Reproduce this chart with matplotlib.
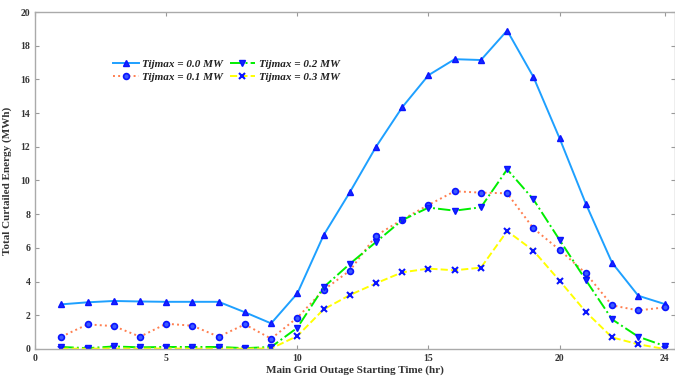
import matplotlib
matplotlib.use("Agg")
import matplotlib.pyplot as plt

hours = list(range(1, 25))
t00 = [2.65, 2.77, 2.85, 2.82, 2.8, 2.8, 2.8, 2.18, 1.52, 3.3, 6.75, 9.3, 12.0, 14.35, 16.25, 17.2, 17.15, 18.9, 16.15, 12.5, 8.62, 5.12, 3.16, 2.67]
t01 = [0.73, 1.46, 1.36, 0.73, 1.5, 1.38, 0.73, 1.46, 0.61, 1.86, 3.5, 4.65, 6.73, 7.68, 8.55, 9.36, 9.28, 9.24, 7.16, 5.88, 4.49, 2.59, 2.29, 2.47]
t02 = [0.12, 0.05, 0.15, 0.1, 0.12, 0.12, 0.12, 0.05, 0.12, 1.26, 3.66, 5.05, 6.35, 7.65, 8.39, 8.21, 8.41, 10.66, 8.88, 6.47, 4.09, 1.76, 0.73, 0.18]
t03 = [0.02, 0.02, 0.03, 0.02, 0.03, 0.02, 0.02, 0.02, 0.03, 0.77, 2.35, 3.2, 3.9, 4.55, 4.77, 4.67, 4.83, 7.0, 5.84, 4.05, 2.2, 0.69, 0.28, 0.0]
labels = ["Tijmax = 0.0 MW", "Tijmax = 0.1 MW", "Tijmax = 0.2 MW", "Tijmax = 0.3 MW"]
xticks = [0, 5, 10, 15, 20, 24]
yticks = list(range(0, 21, 2))

plt.rcParams['font.family'] = ['Liberation Serif', 'DejaVu Serif']
fig = plt.figure(figsize=(6.75, 3.81), dpi=100)
ax = fig.add_axes([0.052, 0.084, 0.948, 0.8845])

mk = dict(markersize=4, markeredgecolor='#0a14ff', markerfacecolor='#1428ff')
ax.plot(hours, t00, '-', color='#1ea0ff', lw=1.4, marker='^', label=labels[0], **mk)
ax.plot(hours, t01, ':', color='#ff7f50', lw=1.4, marker='o', label=labels[1],
        markersize=4.2, markeredgecolor='#0a14ff', markerfacecolor='#3c5aff', markeredgewidth=1.2)
ax.plot(hours, t02, '-.', color='#00ee00', lw=1.4, marker='v', label=labels[2], **mk)
ax.plot(hours, t03, '--', color='#ffff00', lw=1.4, marker='x', label=labels[3],
        markersize=4, markeredgecolor='#0a14ff', markeredgewidth=1.5)

ax.set_xlim(0, 24.4)
ax.set_ylim(0, 20)
ax.set_xticks(xticks)
ax.set_yticks(yticks)
ax.tick_params(direction='in', length=3, color='#999999', labelsize=7, top=True, right=True,
               labeltop=False, labelright=False)
for lab in ax.get_xticklabels() + ax.get_yticklabels():
    lab.set_fontweight('bold')
    lab.set_color('#333333')
for s in ax.spines.values():
    s.set_color('#aaaaaa')
    s.set_linewidth(1.0)

ax.set_xlabel("Main Grid Outage Starting Time (hr)", fontsize=8, fontweight='bold', color='#333333', labelpad=2)
ax.set_ylabel("Total Curtailed Energy (MWh)", fontsize=8, fontweight='bold', color='#333333', labelpad=6)

handles, labs = ax.get_legend_handles_labels()
leg = ax.legend(handles, labs, ncol=2, frameon=False,
                loc='upper left', bbox_to_anchor=(0.11, 0.882),
                prop={'family': ['Liberation Serif'], 'weight': 'bold', 'style': 'italic', 'size': 8},
                handlelength=2.3, handletextpad=0.3, columnspacing=0.6, labelspacing=0.25, borderpad=0.2)
for t in leg.get_texts():
    t.set_color('#222222')

fig.savefig("out.png", dpi=100)
